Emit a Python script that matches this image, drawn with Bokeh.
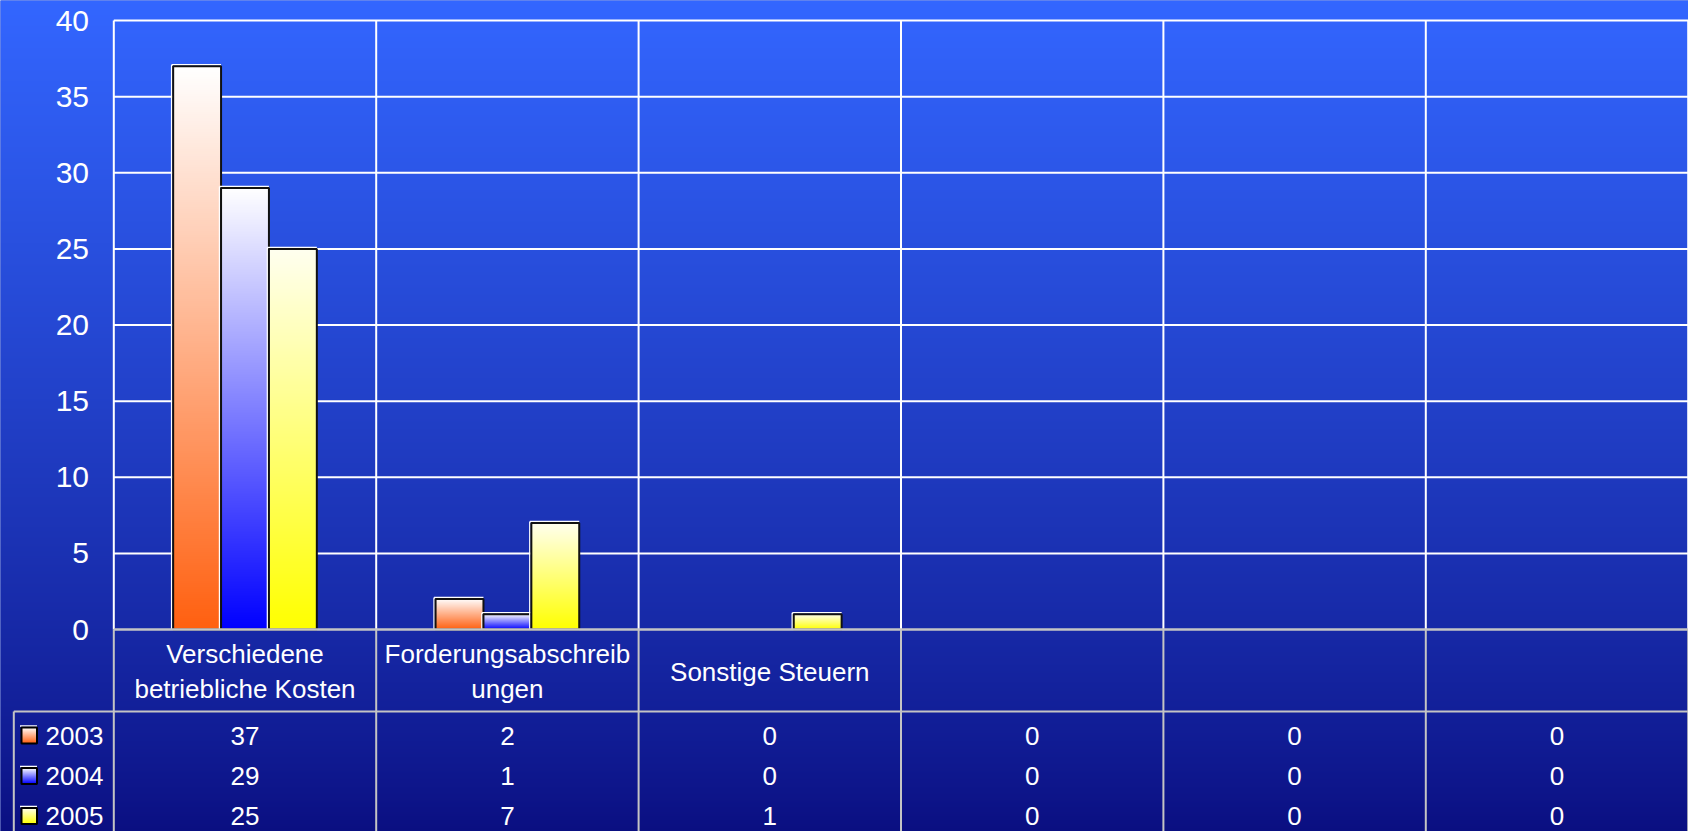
import numpy as np
from bokeh.plotting import figure
from bokeh.models import Range1d
from bokeh.core.properties import value
from bokeh.embed import file_html
from bokeh.resources import INLINE

# ---------------- data ----------------
categories = ["Verschiedene\nbetriebliche Kosten", "Forderungsabschreib\nungen",
              "Sonstige Steuern", "", "", ""]
years = ["2003", "2004", "2005"]
values_2003 = [37, 2, 0, 0, 0, 0]
values_2004 = [29, 1, 0, 0, 0, 0]
values_2005 = [25, 7, 1, 0, 0, 0]
y_ticks = [0, 5, 10, 15, 20, 25, 30, 35, 40]

series = [values_2003, values_2004, values_2005]
bottom_colors = [(255, 96, 16), (0, 0, 255), (255, 255, 0)]
top_colors = [(255, 255, 255), (255, 255, 255), (255, 255, 240)]

# ---------------- layout (pixels -> data units) ----------------
W, H = 1688, 831
PX_X = 262.4       # one category column in pixels
X0 = 113.3         # canvas x of column 0
PX_Y = 15.225      # one value unit in pixels
Y0 = 629.0         # canvas y of value 0

x_start = -X0 / PX_X
x_end = (W - X0) / PX_X
y_end = Y0 / PX_Y
y_start = -(H - Y0) / PX_Y


def cx(px):
    return (px - X0) / PX_X


def cy(px):
    return (Y0 - px) / PX_Y


def dx(px):
    return px / PX_X


def dy(px):
    return px / PX_Y


def vgrad(bottom, top, n, gamma=1.0):
    t = np.linspace(0.0, 1.0, n)[:, None] ** gamma
    b = np.array(bottom, dtype=float)[None, :]
    tp = np.array(top, dtype=float)[None, :]
    rgb = b * (1 - t) + tp * t
    img = np.empty((n, 4), dtype=np.uint32)
    view = img.view(dtype=np.uint8).reshape((n, 4, 4))
    for c in range(3):
        view[:, :, c] = np.round(rgb[:, c])[:, None].astype(np.uint8)
    view[:, :, 3] = 255
    return img


FONT = value("Liberation Sans")

p = figure(width=W, height=H,
           x_range=Range1d(x_start, x_end), y_range=Range1d(y_start, y_end),
           x_axis_type=None, y_axis_type=None,
           toolbar_location=None, output_backend="svg", min_border=0)
p.outline_line_color = None
p.background_fill_color = "#2040c0"
p.border_fill_color = "#2040c0"

# background gradient (bottom -> top), slightly larger than the visible area
bg = vgrad((10, 14, 128), (51, 102, 255), 831, gamma=0.85)
p.image_rgba(image=[bg], x=x_start - dx(6), y=y_start - dy(2),
             dw=x_end - x_start + dx(12), dh=y_end - y_start + dy(4))

# white grid inside plot area
ncat = len(categories)
gy = [t for t in y_ticks if t > 0]
p.segment(x0=[0] * len(gy), x1=[x_end] * len(gy), y0=gy, y1=gy,
          line_color="white", line_width=2)
vx = list(range(ncat + 1))
p.segment(x0=vx, x1=vx, y0=[0] * len(vx), y1=[max(y_ticks)] * len(vx),
          line_color="white", line_width=2)

# bars
bar_w = 0.1825
group_left = 0.5 - 1.5 * bar_w
for s, vals in enumerate(series):
    idx = [i for i, v in enumerate(vals) if v > 0]
    lefts = [i + group_left + s * bar_w for i in idx]
    rights = [l + bar_w for l in lefts]
    tops = [vals[i] for i in idx]
    grad = vgrad(bottom_colors[s], top_colors[s], 256)
    p.image_rgba(image=[grad] * len(idx), x=lefts, y=[0] * len(idx),
                 dw=[bar_w] * len(idx), dh=tops)
    # white highlight on top and left
    p.segment(x0=[l - dx(1.5) for l in lefts], x1=rights,
              y0=[t + dy(1.5) for t in tops], y1=[t + dy(1.5) for t in tops],
              line_color="white", line_width=1.5)
    p.segment(x0=[l - dx(1.5) for l in lefts], x1=[l - dx(1.5) for l in lefts],
              y0=[0] * len(idx), y1=[t + dy(1.5) for t in tops],
              line_color="white", line_width=1.5)
    p.quad(left=lefts, right=rights, bottom=[0] * len(idx), top=tops,
           fill_color=None, line_color="#111111", line_width=2)

# data table lines (grey)
TL = "#c4c4c4"
cat_row_bottom = cy(711)
legend_left = cx(13.3)
p.segment(x0=[0], x1=[x_end], y0=[0], y1=[0], line_color=TL, line_width=2.5)
p.segment(x0=vx, x1=vx, y0=[y_start] * len(vx), y1=[0] * len(vx),
          line_color=TL, line_width=2)
p.segment(x0=[legend_left], x1=[x_end], y0=[cat_row_bottom], y1=[cat_row_bottom],
          line_color=TL, line_width=2)
p.segment(x0=[legend_left], x1=[legend_left], y0=[y_start], y1=[cat_row_bottom],
          line_color=TL, line_width=2)

# y tick labels
p.text(x=[cx(88.5)] * len(y_ticks), y=y_ticks, text=[str(t) for t in y_ticks],
       text_align="right", text_baseline="middle", text_color="white",
       text_font_size="30px", text_font=FONT)

# category labels
p.text(x=[i + 0.5 for i in range(ncat)], y=[cy(671)] * ncat, text=categories,
       text_align="center", text_baseline="middle", text_color="white",
       text_font_size="26px", text_font=FONT, text_line_height=1.18)

# table rows: legend keys, years, values
row_y = [cy(735), cy(775.5), cy(815.5)]
key_l = cx(21)
key_w = dx(15.5)
key_h = dy(16)
for s, vals in enumerate(series):
    grad = vgrad(bottom_colors[s], top_colors[s], 64)
    kb = row_y[s] - key_h / 2
    p.image_rgba(image=[grad], x=key_l, y=kb, dw=key_w, dh=key_h)
    p.segment(x0=[key_l - dx(1.5)], x1=[key_l + key_w], y0=[kb + key_h + dy(1.5)],
              y1=[kb + key_h + dy(1.5)], line_color="white", line_width=1.5)
    p.quad(left=[key_l], right=[key_l + key_w], bottom=[kb], top=[kb + key_h],
           fill_color=None, line_color="black", line_width=2)
    p.text(x=[cx(45)], y=[row_y[s]], text=[years[s]], text_align="left",
           text_baseline="middle", text_color="white", text_font_size="26px",
           text_font=FONT)
    p.text(x=[i + 0.5 for i in range(ncat)], y=[row_y[s]] * ncat,
           text=[str(v) for v in vals], text_align="center", text_baseline="middle",
           text_color="white", text_font_size="26px", text_font=FONT)

open("out.html", "w").write(file_html(p, INLINE))
